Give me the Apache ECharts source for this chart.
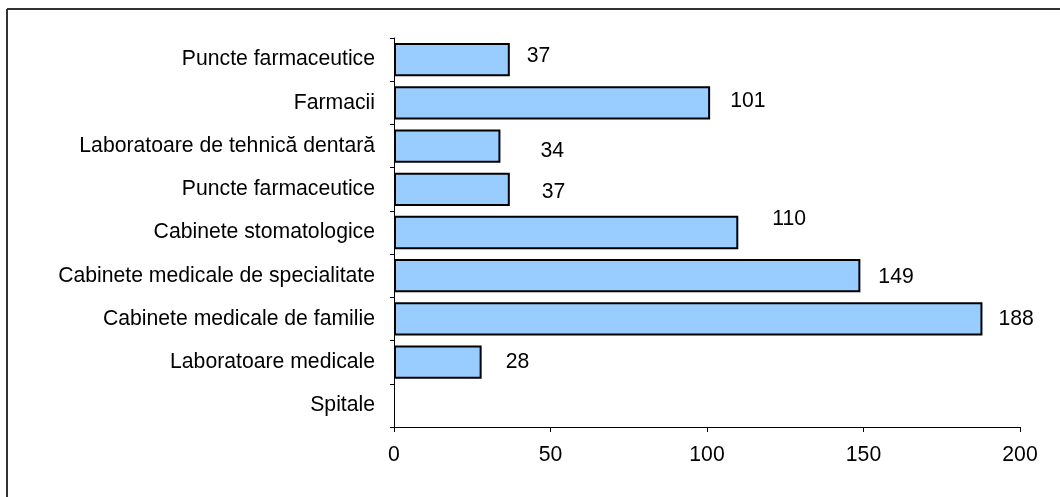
<!DOCTYPE html>
<html>
<head>
<meta charset="utf-8">
<script src="https://cdn.jsdelivr.net/npm/echarts@6/dist/echarts.min.js"></script>
<style>
html,body{margin:0;padding:0;background:#fff;}
#chart{width:1060px;height:497px;}
</style>
</head>
<body>
<div id="chart"></div>
<script>
// Categories listed bottom to top
const categories = [
  'Spitale',
  'Laboratoare medicale',
  'Cabinete medicale de familie',
  'Cabinete medicale de specialitate',
  'Cabinete stomatologice',
  'Puncte farmaceutice',
  'Laboratoare de tehnică dentară',
  'Farmacii',
  'Puncte farmaceutice'
];
const values = [null, 28, 188, 149, 110, 37, 34, 101, 37];
const xTicks = [0, 50, 100, 150, 200];

// label nudges (style only), same order as categories
const labelNudge = [
  [0, 0], [24, 0], [16, 0], [18, 1], [34, -13], [32, 3], [40, 5], [20, -2], [17, -3]
];

const FONT = "'Liberation Sans', Arial, sans-serif";

const chart = echarts.init(document.getElementById('chart'), null, {renderer: 'canvas'});

const seriesData = values.map((v, i) => ({
  value: v,
  label: { offset: labelNudge[i] }
}));

chart.setOption({
  animation: false,
  backgroundColor: '#fff',
  textStyle: { fontFamily: FONT },
  graphic: [
    {
      type: 'line',
      shape: { x1: 7, y1: 9, x2: 1060, y2: 9 },
      style: { stroke: '#333', lineWidth: 2 },
      silent: true
    },
    {
      type: 'line',
      shape: { x1: 7, y1: 9, x2: 7, y2: 497 },
      style: { stroke: '#333', lineWidth: 2 },
      silent: true
    }
  ],
  grid: { left: 394, right: 40, top: 38, bottom: 70, containLabel: false },
  xAxis: {
    type: 'value',
    min: xTicks[0],
    max: xTicks[xTicks.length - 1],
    interval: xTicks[1] - xTicks[0],
    splitLine: { show: false },
    axisLine: { show: true, lineStyle: { color: '#000', width: 1 } },
    axisTick: { show: true, length: 5, lineStyle: { color: '#000' } },
    axisLabel: { color: '#000', fontSize: 21.2, fontFamily: FONT, margin: 18 }
  },
  yAxis: {
    type: 'category',
    data: categories,
    boundaryGap: true,
    axisLine: { show: true, lineStyle: { color: '#000', width: 1 } },
    axisTick: { show: true, length: 4, lineStyle: { color: '#000' } },
    axisLabel: { color: '#000', fontSize: 21.2, fontFamily: FONT, margin: 19 },
    splitLine: { show: false }
  },
  series: [{
    type: 'bar',
    data: seriesData,
    barCategoryGap: '23%',
    itemStyle: { color: '#99CCFF', borderColor: '#000', borderWidth: 2 },
    label: {
      show: true,
      position: 'right',
      distance: 0,
      color: '#000',
      fontSize: 21.2,
      fontFamily: FONT
    }
  }]
});
</script>
</body>
</html>
